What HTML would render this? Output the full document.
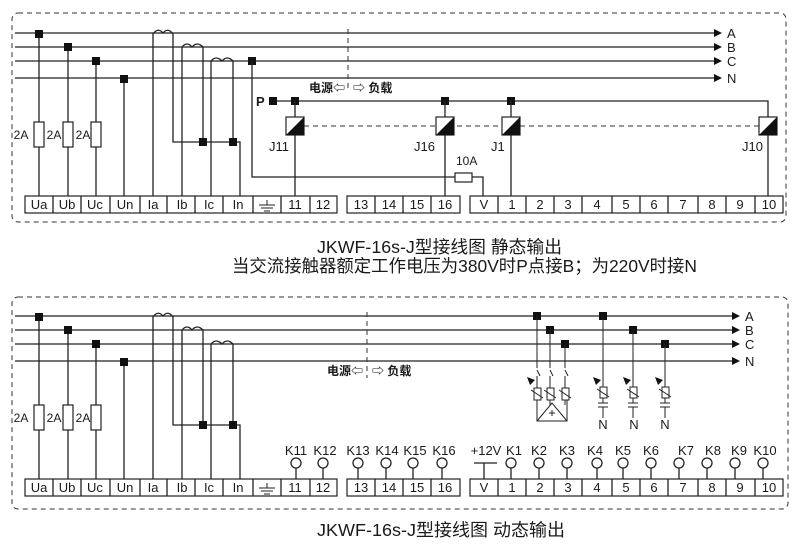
<!DOCTYPE html>
<html><head><meta charset="utf-8"><style>
html,body{margin:0;padding:0;background:#fff;}
svg{display:block;}
text{font-family:"Liberation Sans","Noto Sans CJK SC",sans-serif;fill:#1a1a1a;}
.t{font-size:13px;text-anchor:middle;}
.w{stroke:#222;stroke-width:1.3;fill:none;}
.d{stroke:#333;stroke-width:1;fill:none;stroke-dasharray:5,4;}
.box{fill:#fff;stroke:#222;stroke-width:1.2;}
.sq{fill:#111;}
</style></head><body>
<svg width="800" height="550" viewBox="0 0 800 550" xmlns="http://www.w3.org/2000/svg">
<defs>
<g id="common">
  <path class="w" d="M39,34V196 M68,47V196 M96,61V196 M124,79V196"/>
  <rect class="sq" x="35" y="30" width="8" height="8"/>
  <rect class="sq" x="64" y="43" width="8" height="8"/>
  <rect class="sq" x="92" y="57" width="8" height="8"/>
  <rect class="sq" x="120" y="75" width="8" height="8"/>
  <rect class="box" x="34" y="122" width="10" height="25"/>
  <rect class="box" x="63" y="122" width="10" height="25"/>
  <rect class="box" x="91" y="122" width="10" height="25"/>
  <text x="21" y="139" style="font-size:12px" text-anchor="middle">2A</text>
  <text x="54" y="139" style="font-size:12px" text-anchor="middle">2A</text>
  <text x="83" y="139" style="font-size:12px" text-anchor="middle">2A</text>
  <path class="w" d="M153,196V34 Q158,27 163,33 Q168,27 173,34 V142 H240 V196"/>
  <path class="w" d="M182,196V47 Q187,41 192,47 Q197,41 203,47 V142"/>
  <path class="w" d="M211,196V61 Q216,55 222,61 Q227,55 233,61 V142"/>
  <rect class="sq" x="199" y="138" width="8" height="8"/>
  <rect class="sq" x="229" y="138" width="8" height="8"/>
  <rect class="box" x="25" y="196" width="312" height="17"/>
  <path class="w" d="M53,196v17 M81,196v17 M110,196v17 M140,196v17 M167,196v17 M195,196v17 M223,196v17 M253,196v17 M281,196v17 M310,196v17"/>
  <text class="t" x="39" y="209">Ua</text><text class="t" x="67" y="209">Ub</text><text class="t" x="95" y="209">Uc</text>
  <text class="t" x="125" y="209">Un</text><text class="t" x="153" y="209">Ia</text><text class="t" x="182" y="209">Ib</text>
  <text class="t" x="209" y="209">Ic</text><text class="t" x="238" y="209">In</text>
  <path class="w" d="M267,200v5 M259,205h16 M261,208h12 M264,211h6" style="stroke-width:1"/>
  <text class="t" x="295" y="209">11</text><text class="t" x="323" y="209">12</text>
  <rect class="box" x="347" y="196" width="113" height="17"/>
  <path class="w" d="M375,196v17 M403,196v17 M431,196v17"/>
  <text class="t" x="361" y="209">13</text><text class="t" x="389" y="209">14</text><text class="t" x="417" y="209">15</text><text class="t" x="445" y="209">16</text>
  <rect class="box" x="470" y="196" width="313" height="17"/>
  <path class="w" d="M498,196v17 M526,196v17 M554,196v17 M582,196v17 M612,196v17 M640,196v17 M668,196v17 M698,196v17 M726,196v17 M755,196v17"/>
  <text class="t" x="484" y="209">V</text><text class="t" x="512" y="209">1</text><text class="t" x="540" y="209">2</text>
  <text class="t" x="568" y="209">3</text><text class="t" x="597" y="209">4</text><text class="t" x="626" y="209">5</text>
  <text class="t" x="654" y="209">6</text><text class="t" x="683" y="209">7</text><text class="t" x="712" y="209">8</text>
  <text class="t" x="740" y="209">9</text><text class="t" x="769" y="209">10</text>
</g>
</defs>

<rect class="d" x="12" y="13" width="774" height="209" rx="6"/>
<path class="w" d="M15,33H714 M15,47H714 M15,61H714 M15,78H714"/>
<polygon points="714,29 722,33 714,37" fill="#111"/>
<polygon points="714,43 722,47 714,51" fill="#111"/>
<polygon points="714,57 722,61 714,65" fill="#111"/>
<polygon points="714,74 722,78 714,82" fill="#111"/>
<text x="727" y="38" style="font-size:13px">A</text>
<text x="727" y="52" style="font-size:13px">B</text>
<text x="727" y="66" style="font-size:13px">C</text>
<text x="727" y="83" style="font-size:13px">N</text>
<use href="#common"/>
<path class="d" d="M348,29V92"/>
<text x="345" y="92" style="font-size:12px;font-weight:bold" text-anchor="end">电源⇦</text>
<text x="353" y="92" style="font-size:12px;font-weight:bold">⇨ 负载</text>
<rect class="sq" x="248" y="57" width="8" height="8"/>
<path class="w" d="M252,61V177H455 M472,177H483V196"/>
<rect class="box" x="455" y="173" width="17" height="9"/>
<text x="456" y="165" style="font-size:12px">10A</text>
<text x="256" y="106" style="font-size:13px;font-weight:bold">P</text>
<path class="w" d="M273,101H768V117"/>
<rect class="sq" x="269" y="97" width="8" height="8"/>
<rect class="sq" x="291" y="97" width="8" height="8"/>
<rect class="sq" x="441" y="97" width="8" height="8"/>
<rect class="sq" x="507" y="97" width="8" height="8"/>
<path class="w" d="M295,101V196 M445,101V196 M511,101V196 M768,135V196"/>
<path class="d" d="M304,126H759"/>
<g>
<rect class="box" x="286" y="117" width="18" height="18"/><polygon points="304,117 304,135 286,135" fill="#111"/>
<rect class="box" x="436" y="117" width="18" height="18"/><polygon points="454,117 454,135 436,135" fill="#111"/>
<rect class="box" x="502" y="117" width="18" height="18"/><polygon points="520,117 520,135 502,135" fill="#111"/>
<rect class="box" x="759" y="117" width="18" height="18"/><polygon points="777,117 777,135 759,135" fill="#111"/>
</g>
<text x="269" y="151" style="font-size:13px">J11</text>
<text x="414" y="151" style="font-size:13px">J16</text>
<text x="491" y="151" style="font-size:13px">J1</text>
<text x="742" y="151" style="font-size:13px">J10</text>

<text x="317" y="253" style="font-size:17.5px" textLength="245" lengthAdjust="spacingAndGlyphs">JKWF-16s-J型接线图  静态输出</text>
<text x="232" y="272" style="font-size:17.5px" textLength="465" lengthAdjust="spacingAndGlyphs">当交流接触器额定工作电压为380V时P点接B；为220V时接N</text>

<rect class="d" x="12" y="297" width="776" height="212" rx="6"/>
<path class="w" d="M15,316H732 M15,330H732 M15,344H732 M15,361H732"/>
<polygon points="732,312 740,316 732,320" fill="#111"/>
<polygon points="732,326 740,330 732,334" fill="#111"/>
<polygon points="732,340 740,344 732,348" fill="#111"/>
<polygon points="732,357 740,361 732,365" fill="#111"/>
<text x="745" y="321" style="font-size:13px">A</text>
<text x="745" y="335" style="font-size:13px">B</text>
<text x="745" y="349" style="font-size:13px">C</text>
<text x="745" y="366" style="font-size:13px">N</text>
<use href="#common" transform="translate(0,283)"/>
<path class="d" d="M367,312V378"/>
<text x="363" y="375" style="font-size:12px;font-weight:bold" text-anchor="end">电源⇦</text>
<text x="372" y="375" style="font-size:12px;font-weight:bold">⇨ 负载</text>
<g class="w">
<path d="M296,468V479 M323,468V479 M358,468V479 M386,468V479 M413,468V479 M442,468V479 M511,468V479 M539,468V479 M567,468V479 M597,468V479 M623,468V479 M651,468V479 M679,468V479 M707,468V479 M735,468V479 M763,468V479"/>
<circle cx="296" cy="463" r="5"/><circle cx="323" cy="463" r="5"/><circle cx="358" cy="463" r="5"/><circle cx="386" cy="463" r="5"/>
<circle cx="413" cy="463" r="5"/><circle cx="442" cy="463" r="5"/><circle cx="511" cy="463" r="5"/><circle cx="539" cy="463" r="5"/>
<circle cx="567" cy="463" r="5"/><circle cx="597" cy="463" r="5"/><circle cx="623" cy="463" r="5"/><circle cx="651" cy="463" r="5"/>
<circle cx="679" cy="463" r="5"/><circle cx="707" cy="463" r="5"/><circle cx="735" cy="463" r="5"/><circle cx="763" cy="463" r="5"/>
<path d="M474,463H497 M484,463V479"/>
</g>
<g class="t">
<text x="296" y="455">K11</text><text x="325" y="455">K12</text><text x="358" y="455">K13</text><text x="387" y="455">K14</text>
<text x="415" y="455">K15</text><text x="444" y="455">K16</text><text x="486" y="455">+12V</text><text x="514" y="455">K1</text>
<text x="539" y="455">K2</text><text x="567" y="455">K3</text><text x="595" y="455">K4</text><text x="623" y="455">K5</text>
<text x="651" y="455">K6</text><text x="686" y="455">K7</text><text x="713" y="455">K8</text><text x="739" y="455">K9</text><text x="765" y="455">K10</text>
</g>
<rect class="sq" x="533" y="312" width="8" height="8"/>
<rect class="sq" x="546" y="326" width="8" height="8"/>
<rect class="sq" x="561" y="340" width="8" height="8"/>
<rect class="sq" x="599" y="312" width="8" height="8"/>
<rect class="sq" x="629" y="326" width="8" height="8"/>
<rect class="sq" x="661" y="340" width="8" height="8"/>
<g class="w" style="stroke-width:1">
<path d="M537,316V368 M537,370l3,6 M537,376V388 M550,330V368 M550,370l3,6 M550,376V388 M565,344V368 M565,370l3,6 M565,376V388"/>
<rect x="534" y="388" width="7" height="12"/><rect x="547" y="388" width="7" height="12"/><rect x="562" y="388" width="7" height="12"/>
<path d="M531,390l12,8 M544,390l12,8 M559,390l12,8"/>
<path d="M537,400V421H567V400 M550,400V405 M565,400V405 M537,421 L552,403 L567,421"/>
<path d="M549,413h6 M552,410v6"/>
<path d="M603,316V387 M633,330V387 M665,344V387"/>
<rect x="600" y="387" width="7" height="11"/><rect x="630" y="387" width="7" height="11"/><rect x="662" y="387" width="7" height="11"/>
<path d="M597,389l12,8 M627,389l12,8 M659,389l12,8"/>
<path d="M603,398V403 M598,403h10 M598,407h10 M603,407V418 M633,398V403 M628,403h10 M628,407h10 M633,407V418 M665,398V403 M660,403h10 M660,407h10 M665,407V418"/>
</g>
<polygon points="527,377 535,380 530,385" fill="#111"/>
<polygon points="593,377 601,380 596,385" fill="#111"/>
<polygon points="623,377 631,380 626,385" fill="#111"/>
<polygon points="655,377 663,380 658,385" fill="#111"/>
<text class="t" x="603" y="429">N</text>
<text class="t" x="634" y="429">N</text>
<text class="t" x="665" y="429">N</text>

<text x="317" y="536" style="font-size:17.5px" textLength="248" lengthAdjust="spacingAndGlyphs">JKWF-16s-J型接线图  动态输出</text>
</svg>
</body></html>
